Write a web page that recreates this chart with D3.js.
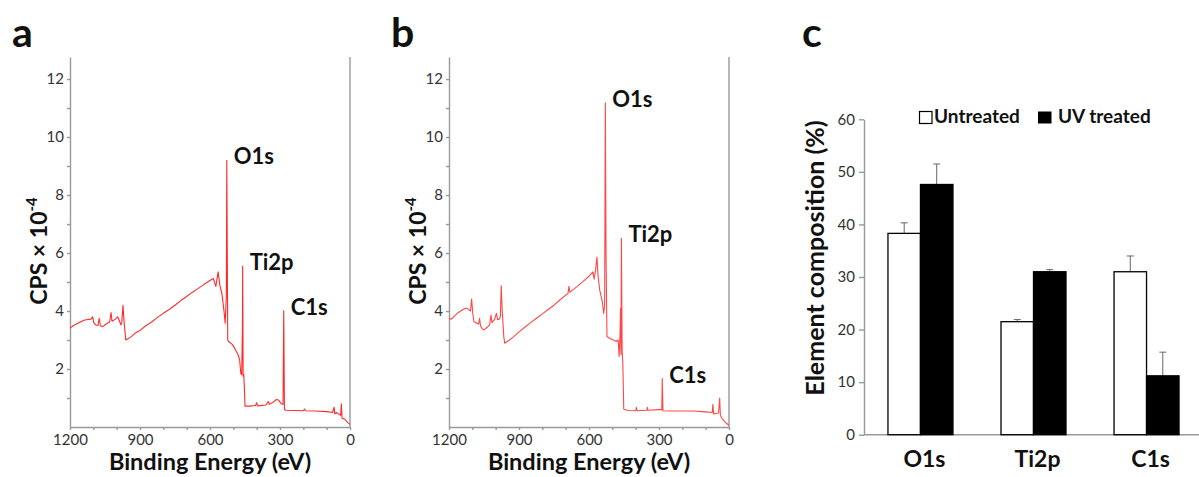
<!DOCTYPE html>
<html>
<head>
<meta charset="utf-8">
<script src="https://cdn.jsdelivr.net/npm/d3@7"></script>
<style>
  body { margin: 0; background: #fff; }
  svg { font-family: Lato, "Open Sans", sans-serif; }
  .axis path, .axis line { stroke: #999; stroke-width: 1.4; }
  .axis text { fill: #333; font-size: 15px; font-family: Lato, sans-serif; }
  .bold { font-weight: bold; fill: #111; }
</style>
</head>
<body>
<svg id="plate" width="1199" height="477"></svg>
<script>
// XPS survey spectrum, untreated (panel a): [binding energy eV, CPS x 1e-4]
var specA = [
    [1200, 3.41], [1185, 3.5], [1160, 3.6], [1140, 3.68], [1130, 3.7], [1110, 3.72], [1103, 3.8],
    [1098, 3.6], [1090, 3.52], [1080, 3.5], [1075, 3.75], [1070, 3.5], [1060, 3.46], [1045, 3.55],
    [1030, 3.62], [1024, 3.95], [1020, 3.65], [1005, 3.72], [996, 3.8], [990, 3.7], [982, 3.52],
    [978, 3.6], [973, 4.2], [968, 3.6], [961, 3.0], [940, 3.1], [920, 3.24], [900, 3.33],
    [875, 3.49], [850, 3.62], [825, 3.78], [800, 3.92], [775, 4.05], [750, 4.2], [725, 4.36],
    [700, 4.5], [675, 4.65], [650, 4.78], [625, 4.92], [600, 5.05], [586, 5.12], [575, 4.85],
    [565, 5.35], [558, 4.9], [549, 4.6], [540, 4.0], [535, 3.58], [530, 4.5], [528, 9.2],
    [524, 3.0], [520, 2.95], [505, 2.85], [499, 2.78], [490, 2.65], [480, 2.5], [473, 2.32],
    [468, 1.85], [464, 1.8], [461, 3.5], [460, 5.55], [458, 1.75], [455, 1.8], [452, 1.2],
    [450, 0.72], [430, 0.72], [405, 0.74], [400, 0.84], [396, 0.73], [360, 0.76], [350, 0.88],
    [346, 0.78], [330, 0.85], [315, 0.95], [305, 0.92], [295, 0.8], [287, 0.78], [284, 4.01],
    [281, 0.6], [275, 0.58], [200, 0.56], [195, 0.62], [190, 0.56], [150, 0.55], [100, 0.53],
    [75, 0.5], [68, 0.68], [65, 0.45], [58, 0.5], [40, 0.4], [37, 0.8], [34, 0.3], [25, 0.28],
    [20, 0.25], [10, 0.15], [0, 0.09]
];

// XPS survey spectrum, UV treated (panel b)
var specB = [
    [1200, 3.75], [1190, 3.72], [1180, 3.8], [1160, 3.95], [1140, 4.05], [1125, 4.1], [1115, 4.05],
    [1108, 4.0], [1103, 4.41], [1098, 3.9], [1093, 3.63], [1080, 3.58], [1073, 3.55], [1069, 3.75],
    [1065, 3.5], [1058, 3.38], [1050, 3.35], [1035, 3.45], [1026, 3.52], [1020, 3.86], [1016, 3.6],
    [1005, 3.7], [997, 3.92], [992, 3.7], [985, 3.72], [980, 3.8], [976, 4.87], [972, 4.0],
    [965, 3.1], [961, 2.89], [950, 2.95], [925, 3.1], [900, 3.28], [875, 3.44], [850, 3.6],
    [825, 3.75], [800, 3.9], [775, 4.05], [750, 4.2], [725, 4.38], [700, 4.55], [690, 4.6],
    [686, 4.85], [682, 4.65], [650, 4.85], [625, 5.02], [600, 5.2], [583, 5.35], [578, 5.1],
    [572, 5.4], [566, 5.86], [561, 5.2], [554, 4.72], [543, 4.32], [537, 3.92], [533, 4.2],
    [530, 11.18], [527, 6.0], [523, 3.12], [510, 3.05], [495, 3.0], [483, 2.95], [475, 3.0],
    [471, 2.43], [467, 3.2], [465, 4.09], [463, 2.5], [461, 6.51], [458, 2.66], [455, 2.2],
    [451, 0.61], [430, 0.57], [400, 0.56], [397, 0.68], [394, 0.56], [352, 0.58], [350, 0.68],
    [347, 0.58], [300, 0.6], [288, 0.6], [286, 1.67], [283, 0.56], [250, 0.55], [150, 0.55],
    [100, 0.52], [72, 0.5], [69, 0.78], [66, 0.45], [45, 0.48], [40, 1.0], [37, 0.4], [30, 0.3],
    [20, 0.2], [10, 0.12], [0, 0.06]
];

// peak labels: [text, energy, cps]
var peaksA = [['O1s', 528, 9.2], ['Ti2p', 460, 5.55], ['C1s', 284, 4.01]];
var peaksB = [['O1s', 530, 11.18], ['Ti2p', 461, 6.51], ['C1s', 286, 1.67]];

// panel c: element composition (%)
var elements = ['O1s', 'Ti2p', 'C1s'];
var untreated = [38.3, 21.5, 31.0];
var untreatedErr = [2.0, 0.4, 3.0];
var uvTreated = [47.6, 31.0, 11.2];
var uvTreatedErr = [3.9, 0.4, 4.5];
var groups = ['Untreated', 'UV treated'];

var svg = d3.select('#plate');

function drawSpectrum(left, data, peaks, letter, color) {
    var x = d3.scaleLinear().domain([1200, 0]).range([left, left + 280]);
    var y = d3.scaleLinear().domain([0, 12.76]).range([427, 57]);
    var g = svg.append('g');

    // Y axis
    g.append('g')
        .attr('class', 'axis')
        .attr('transform', 'translate(' + left + ',0)')
        .call(d3.axisLeft(y).tickValues(d3.range(1, 13)).tickSize(3).tickSizeOuter(0).tickPadding(3)
            .tickFormat((d) => (d % 2 === 0 ? d : '')));

    // X axis
    g.append('g')
        .attr('class', 'axis')
        .attr('transform', 'translate(0,427)')
        .call(d3.axisBottom(x).tickValues(d3.range(0, 1201, 100)).tickSize(3).tickSizeOuter(0).tickPadding(4)
            .tickFormat((d) => (d % 300 === 0 ? d : '')));

    // right frame line
    g.append('line')
        .attr('x1', x(0)).attr('x2', x(0))
        .attr('y1', y(12.76)).attr('y2', y(0))
        .attr('stroke', '#999').attr('stroke-width', 1.4);

    // spectrum
    g.append('path')
        .datum(data)
        .attr('fill', 'none')
        .attr('stroke', color)
        .attr('stroke-width', 1.1)
        .attr('stroke-linejoin', 'round')
        .attr('d', d3.line().x((d) => x(d[0])).y((d) => y(d[1])));

    // peak labels
    g.selectAll('.peak')
        .data(peaks)
        .enter().append('text')
        .attr('class', 'bold peak')
        .attr('x', (d) => x(d[1]) + 7)
        .attr('y', (d) => y(d[2]) + 4)
        .style('font-size', '22px')
        .text((d) => d[0]);

    // axis titles
    g.append('text')
        .attr('class', 'bold')
        .attr('x', left + 140).attr('y', 470)
        .attr('text-anchor', 'middle')
        .style('font-size', '23.5px')
        .text('Binding Energy (eV)');

    var yt = g.append('text')
        .attr('class', 'bold')
        .attr('transform', 'translate(' + (left - 23) + ',251) rotate(-90)')
        .attr('text-anchor', 'middle')
        .style('font-size', '23px');
    yt.append('tspan').text('CPS × 10');
    yt.append('tspan').attr('dy', -10).style('font-size', '15px').text('-4');

    // panel letter
    g.append('text')
        .attr('class', 'bold')
        .attr('x', left - 58).attr('y', 47)
        .style('font-size', '41px')
        .text(letter);
}

drawSpectrum(70, specA, peaksA, 'a', '#ff2b2b');
drawSpectrum(449, specB, peaksB, 'b', '#ff4747');

// panel c: grouped bars
var cx = d3.scaleBand().domain(elements).range([864, 1203]).paddingInner(0.425).paddingOuter(0.212);
var sub = d3.scaleBand().domain(groups).range([0, cx.bandwidth()]);
var cy = d3.scaleLinear().domain([0, 60]).range([434.7, 119.3]);
var gc = svg.append('g');

gc.append('g')
    .attr('class', 'axis')
    .attr('transform', 'translate(864,0)')
    .call(d3.axisLeft(cy).tickValues(d3.range(0, 61, 10)).tickSize(5).tickSizeOuter(0).tickPadding(4));

gc.append('line')
    .attr('x1', 864).attr('x2', 1199)
    .attr('y1', cy(0)).attr('y2', cy(0))
    .attr('stroke', '#999').attr('stroke-width', 1.4);

var series = [
    {name: groups[0], vals: untreated, errs: untreatedErr, fill: '#fff'},
    {name: groups[1], vals: uvTreated, errs: uvTreatedErr, fill: '#000'}
];

series.forEach((s) => {
    var rows = elements.map((e, i) => ({el: e, v: s.vals[i], err: s.errs[i]}));
    var bx = (d) => cx(d.el) + sub(s.name);
    // error bars (upper only)
    gc.selectAll(null).data(rows).enter().append('line')
        .attr('x1', (d) => bx(d) + sub.bandwidth() / 2)
        .attr('x2', (d) => bx(d) + sub.bandwidth() / 2)
        .attr('y1', (d) => cy(d.v))
        .attr('y2', (d) => cy(d.v + d.err))
        .attr('stroke', '#666').attr('stroke-width', 1);
    gc.selectAll(null).data(rows).enter().append('line')
        .attr('x1', (d) => bx(d) + sub.bandwidth() / 2 - 3.5)
        .attr('x2', (d) => bx(d) + sub.bandwidth() / 2 + 3.5)
        .attr('y1', (d) => cy(d.v + d.err))
        .attr('y2', (d) => cy(d.v + d.err))
        .attr('stroke', '#666').attr('stroke-width', 1);
    gc.selectAll(null).data(rows).enter().append('rect')
        .attr('x', bx)
        .attr('y', (d) => cy(d.v))
        .attr('width', sub.bandwidth())
        .attr('height', (d) => cy(0) - cy(d.v))
        .attr('fill', s.fill)
        .attr('stroke', '#000')
        .attr('stroke-width', 1.3);
});

// category labels
gc.selectAll('.cat')
    .data(elements)
    .enter().append('text')
    .attr('class', 'bold cat')
    .attr('x', (d) => cx(d) + cx.bandwidth() / 2 + 4)
    .attr('y', 467)
    .attr('text-anchor', 'middle')
    .style('font-size', '23px')
    .text((d) => d);

// legend
gc.append('rect').attr('x', 919.5).attr('y', 111.5).attr('width', 12.5).attr('height', 12)
    .attr('fill', '#fff').attr('stroke', '#000').attr('stroke-width', 1.2);
gc.append('text').attr('class', 'bold').attr('x', 934).attr('y', 123)
    .style('font-size', '19px').text(groups[0]);
gc.append('rect').attr('x', 1038).attr('y', 111.5).attr('width', 13.5).attr('height', 12)
    .attr('fill', '#000');
gc.append('text').attr('class', 'bold').attr('x', 1058).attr('y', 123)
    .style('font-size', '19px').text(groups[1]);

// y title
gc.append('text')
    .attr('class', 'bold')
    .attr('transform', 'translate(824,258) rotate(-90)')
    .attr('text-anchor', 'middle')
    .style('font-size', '25px')
    .text('Element composition (%)');

gc.append('text')
    .attr('class', 'bold')
    .attr('x', 802).attr('y', 47)
    .style('font-size', '41px')
    .text('c');
</script>
</body>
</html>
